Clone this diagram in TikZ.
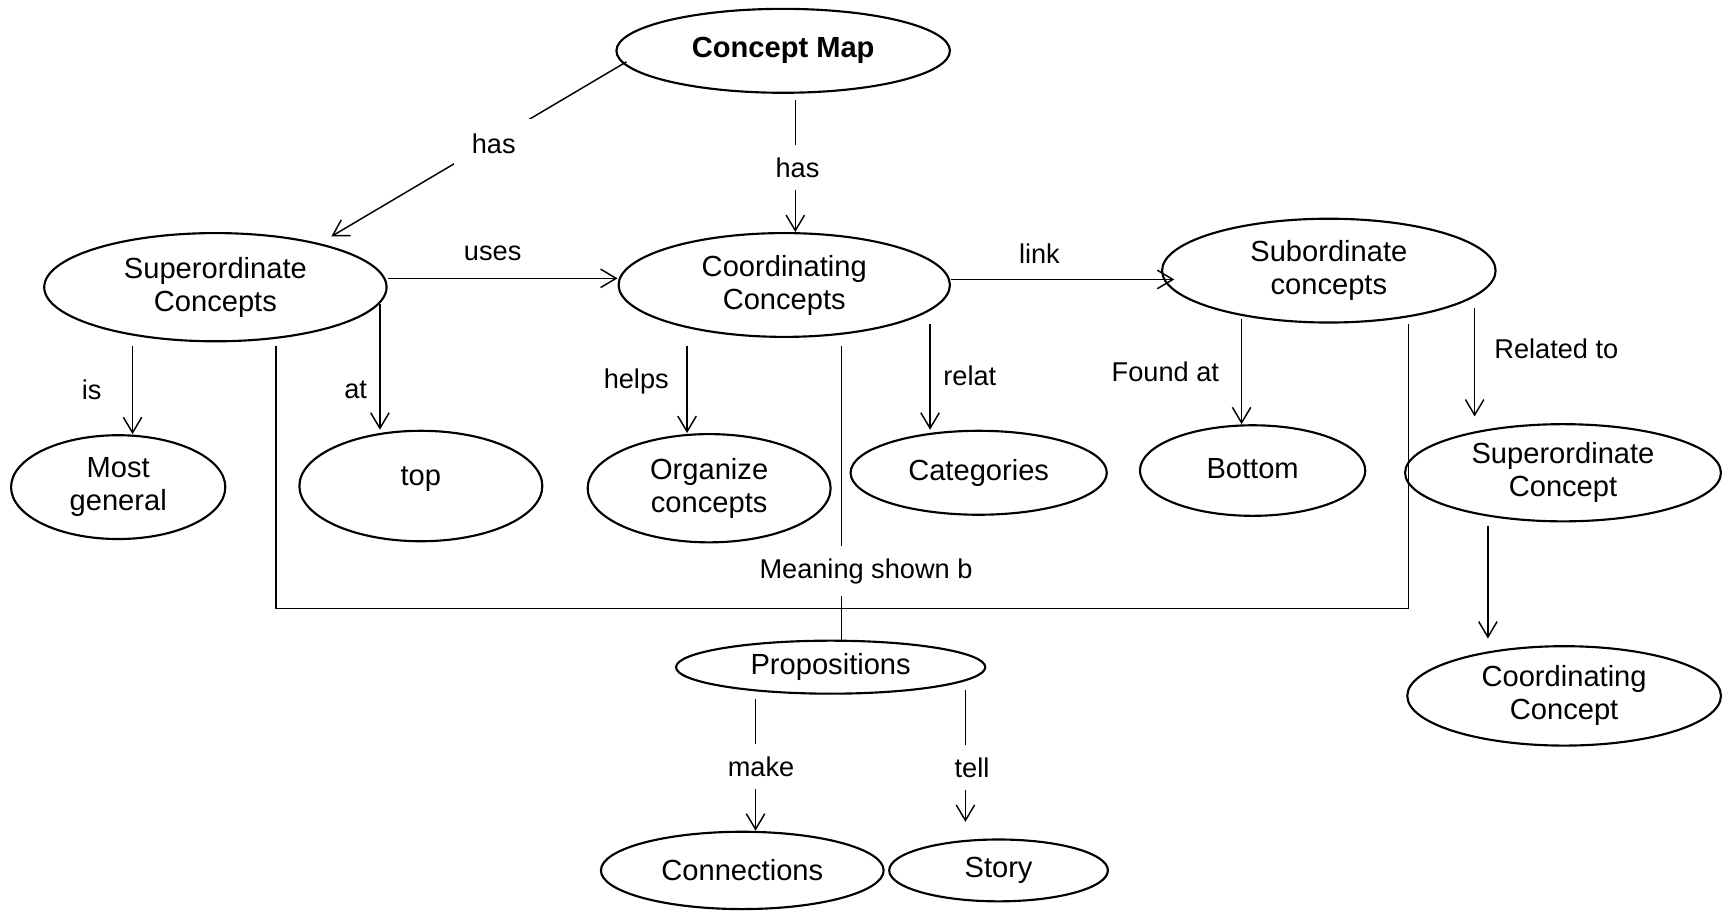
\documentclass[tikz,border=0pt]{standalone}
\usepackage{fontspec}
\setmainfont{Liberation Sans}
\usetikzlibrary{shapes.geometric,arrows.meta,calc}
\begin{document}
\begin{tikzpicture}[x=0.02cm,y=-0.02cm,
  concept/.style={ellipse,draw,line width=1.1pt,inner sep=0pt,align=center,
    font=\fontsize{15}{17}\selectfont},
  conn/.style={line width=0.75pt},
  arr/.style={conn,-{Straight Barb[length=8pt,width=9.5pt,line width=0.75pt]}},
  lbl/.style={font=\fontsize{14}{16}\selectfont,inner sep=1pt},
  gaplbl/.style={lbl,fill=white,inner xsep=3pt,inner ysep=6.5pt},
]
\useasboundingbox (0,0) rectangle (1568,827);

% concepts
\node[concept,minimum width=6.04cm,minimum height=1.52cm,
      font=\fontsize{15}{17}\selectfont\bfseries] (map) at (709,46) {Concept Map};
\node[concept,minimum width=6.2cm,minimum height=1.96cm] (sup) at (195,260) {Superordinate\\Concepts};
\node[concept,minimum width=6.0cm,minimum height=1.88cm] (coo) at (710,258) {Coordinating\\Concepts};
\node[concept,minimum width=6.04cm,minimum height=1.88cm] (sub) at (1203,245) {Subordinate\\concepts};
\node[concept,minimum width=3.88cm,minimum height=1.88cm] (gen) at (107,441) {Most\\general};
\node[concept,minimum width=4.4cm,minimum height=2.0cm] (top) at (381,440) {\raisebox{10pt}{top}};
\node[concept,minimum width=4.4cm,minimum height=1.96cm] (org) at (642,442) {Organize\\concepts};
\node[concept,minimum width=4.64cm,minimum height=1.52cm] (cat) at (886,428) {Categories};
\node[concept,minimum width=4.08cm,minimum height=1.64cm] (bot) at (1134,426) {\raisebox{2pt}{Bottom}};
\node[concept,minimum width=5.72cm,minimum height=1.76cm] (supc) at (1415,428) {Superordinate\\Concept};
\node[concept,minimum width=5.68cm,minimum height=1.8cm] (cooc) at (1416,630) {Coordinating\\Concept};
\node[concept,minimum width=5.6cm,minimum height=0.96cm] (prop) at (752,604) {Propositions};
\node[concept,minimum width=5.12cm,minimum height=1.4cm] (cnx) at (672,788) {Connections};
\node[concept,minimum width=3.96cm,minimum height=1.12cm] (story) at (904,788) {Story};

% links
\draw[arr] ($(map.west)+(10,10)$) -- ($(sup.north)+(105,4)$);
\draw[arr] ($(map.south)+(11,6)$) coordinate (h2) -- (h2 |- coo.north);
\draw[arr] ($(sup.east)+(0,-8)$) coordinate (u1) -- (u1 -| coo.west);
\draw[arr] ($(coo.east)+(0,-5)$) coordinate (k1) -- ($(k1 -| sub.west)+(12,0)$);
\draw[arr] ($(sup.south)+(-75,3)$) coordinate (a1) -- (a1 |- gen.north);
\draw[arr] ($(sup.east)+(-7,15)$) coordinate (a2) -- (a2 |- top.north);
\draw[arr] ($(coo.south)+(-88,7)$) coordinate (a3) -- (a3 |- org.north);
\draw[arr] ($(coo.south)+(132,-13)$) coordinate (a4) -- (a4 |- cat.north);
\draw[arr] ($(sub.south)+(-79,-4)$) coordinate (a5) -- (a5 |- bot.north);
\draw[arr] ($(sub.south)+(132,-14)$) coordinate (a6) -- ($(a6 |- supc.north)+(0,-6)$);
\draw[arr] ($(supc.south)+(-68,3)$) coordinate (a7) -- ($(a7 |- cooc.north)+(0,-6)$);
\draw[conn] ($(coo.south)+(52,7)$) coordinate (a8) -- (a8 |- prop.north);
\draw[conn,line width=0.85pt] ($(sup.south)+(55,3)$) -- ++(0,238) -| ($(sub.south)+(72,0)$);
\draw[arr] ($(prop.south)+(-68,4)$) coordinate (a9) -- (a9 |- cnx.north);
\draw[arr] ($(prop.south)+(122,-4)$) coordinate (a10) -- ($(a10 |- story.north)+(0,-15)$);

% link labels
\node[gaplbl,inner xsep=9pt,inner ysep=7.5pt] (l1) at (447,130) {has};
\node[gaplbl] (l2) at (722,152) {has};
\node[lbl] (l3) at (446,229) {uses};
\node[lbl] (l4) at (941,230) {link};
\node[lbl] (l5) at (83,353) {is};
\node[lbl] (l6) at (322,353) {at};
\node[lbl] (l7) at (576,345) {helps};
\node[lbl] (l8) at (878,340) {relat};
\node[lbl] (l9) at (1055,337) {Found at};
\node[lbl] (l10) at (1409,316) {Related to};
\node[gaplbl] (l11) at (784,517) {Meaning shown b};
\node[gaplbl] (l12) at (689,694) {make};
\node[gaplbl] (l13) at (880,695) {tell};
\end{tikzpicture}
\end{document}
